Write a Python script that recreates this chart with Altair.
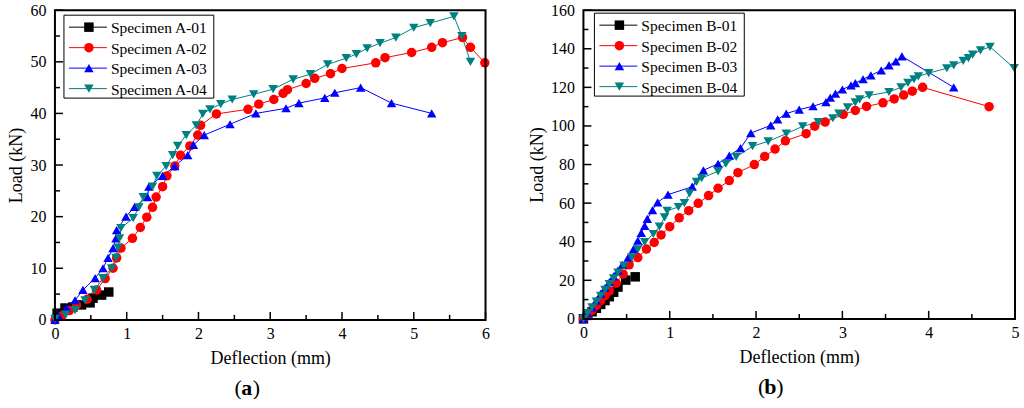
import altair as alt
import pandas as pd

FONT = "Liberation Serif"
COLORS = ["#000000", "#ff0000", "#0000ff", "#008080"]
SHAPES = ["square", "circle", "triangle-up", "triangle-down"]

# ---------------- Panel (a) ----------------
A_NAMES = ["Specimen A-01", "Specimen A-02", "Specimen A-03", "Specimen A-04"]
A01_D = [0.03, 0.14, 0.25, 0.37, 0.49, 0.53, 0.65, 0.75]
A01_L = [1.3, 2.3, 2.5, 2.9, 3.3, 4.2, 4.8, 5.4]
A02_D = [0, 0.1, 0.2, 0.3, 0.45, 0.58, 0.7, 0.81, 0.86, 0.92,
         1.08, 1.19, 1.28, 1.36, 1.41, 1.5, 1.56, 1.67, 1.75, 1.88,
         1.99, 2.03, 2.25, 2.69, 2.84, 3.05, 3.18, 3.24, 3.5, 3.62,
         3.84, 4.0, 4.47, 4.6, 4.97, 5.25, 5.4, 5.68, 5.79, 5.99]
A02_L = [0, 0.8, 1.8, 2.8, 4, 5.8, 8, 10, 12, 13.9,
         15.8, 17.9, 19.9, 21.8, 23.8, 25.8, 27.9, 29.8, 31.9, 33.7,
         35.8, 37.7, 39.9, 40.8, 41.8, 42.7, 43.9, 44.6, 45.8, 46.8,
         47.7, 48.7, 49.8, 50.8, 51.8, 52.8, 53.7, 54.7, 52.8, 49.8]
A03_D = [0, 0.05, 0.16, 0.28, 0.39, 0.56, 0.67, 0.74, 0.81, 0.85,
         0.86, 0.99, 1.11, 1.29, 1.31, 1.5, 1.67, 1.85, 1.93, 2.08,
         2.44, 2.8, 3.22, 3.4, 3.76, 3.9, 4.26, 4.69, 5.25]
A03_L = [0, 0.8, 2.3, 3.8, 5.8, 8.1, 10, 12, 13.9, 15.8,
         17.4, 20, 21.9, 23.8, 25.8, 27.9, 29.8, 31.9, 33.9, 35.8,
         37.9, 40, 41, 42, 43, 44, 45, 42, 40]
A04_D = [0, 0.15, 0.28, 0.42, 0.55, 0.67, 0.79, 0.85, 0.88, 0.9,
         0.92, 1.09, 1.17, 1.23, 1.36, 1.42, 1.55, 1.64, 1.71, 1.83,
         1.97, 2.06, 2.16, 2.31, 2.47, 2.77, 3.04, 3.32, 3.56, 3.8,
         4.06, 4.2, 4.35, 4.53, 4.75, 5.0, 5.23, 5.56, 5.67, 5.79]
A04_L = [0.2, 1, 1.9, 3.8, 5.8, 8.1, 10, 12, 14, 15.8,
         17.8, 19.7, 21.8, 23.8, 25.8, 27.9, 29.8, 31.9, 33.7, 35.8,
         37.7, 39.9, 40.8, 41.8, 42.7, 43.7, 44.7, 46.6, 47.6, 49.5,
         50.7, 51.5, 52.6, 53.6, 54.7, 56.6, 57.5, 58.8, 55, 50]

# ---------------- Panel (b) ----------------
B_NAMES = ["Specimen B-01", "Specimen B-02", "Specimen B-03", "Specimen B-04"]
B01_D = [0, 0.05, 0.1, 0.15, 0.2, 0.25, 0.3, 0.35, 0.4, 0.49, 0.6]
B01_L = [0, 1.8, 3.7, 5.5, 7.5, 9.5, 11.5, 13.8, 16.5, 20.1, 21.8]
B02_D = [0, 0.05, 0.1, 0.15, 0.2, 0.25, 0.3, 0.38, 0.46, 0.53,
         0.63, 0.73, 0.82, 0.9, 1.0, 1.11, 1.22, 1.33, 1.45, 1.56,
         1.69, 1.79, 1.98, 2.1, 2.22, 2.34, 2.58, 2.68, 2.8, 3.01,
         3.15, 3.28, 3.47, 3.6, 3.71, 3.81, 3.93, 4.7]
B02_L = [0, 2, 4.5, 7, 9.5, 12, 14.5, 18.5, 23.2, 28,
         31.8, 36.2, 39.6, 43.5, 47.8, 52.4, 56.1, 59.9, 63.9, 67.7,
         71.7, 75.8, 80, 84.2, 88, 92.3, 96, 99.9, 102, 106,
         108, 110.1, 112, 114, 116, 118, 120, 110]
B03_D = [0, 0.05, 0.1, 0.15, 0.2, 0.25, 0.3, 0.35, 0.4, 0.45,
         0.52, 0.58, 0.63, 0.67, 0.71, 0.74, 0.8, 0.86, 0.98, 1.26,
         1.39, 1.56, 1.69, 1.82, 1.94, 2.17, 2.25, 2.35, 2.5, 2.66,
         2.81, 2.86, 2.92, 3.0, 3.1, 3.15, 3.24, 3.33, 3.45, 3.54,
         3.62, 3.69, 4.29]
B03_L = [0, 3, 6, 9.5, 13, 16, 19, 22, 25, 28,
         31.9, 36.2, 40.5, 44.6, 48.2, 51.8, 56.4, 60.4, 64.4, 68.5,
         77, 80.4, 84.6, 88.5, 96.3, 100.3, 103.4, 106.4, 108.5, 110.2,
         112.4, 114.7, 116.8, 118.9, 121, 122.2, 124.2, 126.2, 128.8, 131.4,
         133.5, 136.1, 120]
B04_D = [0, 0.05, 0.1, 0.15, 0.2, 0.25, 0.3, 0.35, 0.4, 0.47,
         0.56, 0.63, 0.71, 0.81, 0.88, 0.94, 0.97, 1.1, 1.17, 1.23,
         1.31, 1.37, 1.56, 1.65, 1.77, 1.96, 2.14, 2.35, 2.54, 2.72,
         2.89, 2.96, 3.06, 3.15, 3.2, 3.31, 3.54, 3.68, 3.76, 3.83,
         3.88, 4.0, 4.21, 4.29, 4.4, 4.46, 4.51, 4.6, 4.71, 4.99]
B04_L = [0, 3, 6, 9, 12, 15, 18, 21, 24, 27.5,
         31.9, 36, 39.8, 44, 47.8, 52.6, 56, 58, 60, 65,
         71, 73, 76.5, 80.4, 84, 89.5, 92, 96, 99.8, 102,
         104, 106.4, 109.6, 112.2, 113.8, 115.8, 117.6, 120, 122.3, 124.2,
         125.7, 127.4, 129.9, 131.4, 133.7, 135.2, 137, 139.2, 141, 130]

A_X_TICKS = [0, 1, 2, 3, 4, 5, 6]
A_X_MINOR = [0.5, 1.5, 2.5, 3.5, 4.5, 5.5]
A_Y_TICKS = [0, 10, 20, 30, 40, 50, 60]
A_Y_MINOR = [5, 15, 25, 35, 45, 55]
B_X_TICKS = [0, 1, 2, 3, 4, 5]
B_X_MINOR = [0.5, 1.5, 2.5, 3.5, 4.5]
B_Y_TICKS = [0, 20, 40, 60, 80, 100, 120, 140, 160]
B_Y_MINOR = [10, 30, 50, 70, 90, 110, 130, 150]

MARK_SIZE = 90


def make_df(names, ds, ls):
    rows = []
    for n, d, l in zip(names, ds, ls):
        for i, (x, y) in enumerate(zip(d, l)):
            rows.append({"s": n, "d": x, "L": y, "i": i})
    return pd.DataFrame(rows)


def panel(df, names, xt, xm, yt, ym, W, H, tag, tag_x, bx, by):
    xs = alt.Scale(domain=[xt[0], xt[-1]], nice=False, zero=False)
    ys = alt.Scale(domain=[yt[0], yt[-1]], nice=False, zero=False)
    xaxis = alt.Axis(values=xt, format="d", title="Deflection (mm)",
                     labelPadding=6, titlePadding=8)
    yaxis = alt.Axis(values=yt, format="d", title="Load (kN)",
                     labelPadding=9, titlePadding=4)
    cscale = alt.Scale(domain=names, range=COLORS)
    sscale = alt.Scale(domain=names, range=SHAPES)
    base = alt.Chart(df)
    lines = base.mark_line(strokeWidth=1).encode(
        x=alt.X("d:Q", scale=xs, axis=xaxis),
        y=alt.Y("L:Q", scale=ys, axis=yaxis),
        color=alt.Color("s:N", scale=cscale, legend=None),
        detail="s:N",
        order="i:Q",
    )
    pts = base.mark_point(filled=True, size=MARK_SIZE, opacity=1).encode(
        x=alt.X("d:Q", scale=xs, axis=xaxis),
        y=alt.Y("L:Q", scale=ys, axis=yaxis),
        color=alt.Color("s:N", scale=cscale, legend=None),
        shape=alt.Shape("s:N", scale=sscale, legend=None),
    )

    def xticks(vals, ln):
        return alt.Chart(pd.DataFrame({"d": vals})).mark_rule(color="black", strokeWidth=1.5).encode(
            x=alt.X("d:Q", scale=xs, axis=xaxis), y=alt.value(H), y2=alt.value(H - ln))

    def yticks(vals, ln):
        return alt.Chart(pd.DataFrame({"L": vals})).mark_rule(color="black", strokeWidth=1.5).encode(
            y=alt.Y("L:Q", scale=ys, axis=yaxis), x=alt.value(0), x2=alt.value(ln))

    one = pd.DataFrame({"k": [0]})
    frame = alt.Chart(one).mark_rect(fill=None, stroke="black", strokeWidth=2).encode(
        x=alt.value(0), x2=alt.value(W), y=alt.value(0), y2=alt.value(H))

    # legend (box, line sample, marker, label)
    leg = [alt.Chart(one).mark_rect(fill="white", stroke="black", strokeWidth=1).encode(
        x=alt.value(bx), x2=alt.value(bx + 150), y=alt.value(by), y2=alt.value(by + 83))]
    for k, name in enumerate(names):
        yy = by + 12 + k * 20.5
        leg.append(alt.Chart(one).mark_rule(color=COLORS[k], strokeWidth=1).encode(
            x=alt.value(bx + 5), x2=alt.value(bx + 43), y=alt.value(yy)))
        leg.append(alt.Chart(one).mark_point(shape=SHAPES[k], filled=True, size=MARK_SIZE,
                                             color=COLORS[k], opacity=1).encode(
            x=alt.value(bx + 25), y=alt.value(yy)))
        leg.append(alt.Chart(one).mark_text(text=name, font=FONT, fontSize=15.5, align="left",
                                            baseline="middle", color="black").encode(
            x=alt.value(bx + 47), y=alt.value(yy + 1)))

    t1 = alt.Chart(one).mark_text(text="(", font=FONT, fontSize=22, align="right",
                                  baseline="middle", color="black").encode(
        x=alt.value(tag_x - 5), y=alt.value(H + 68))
    t2 = alt.Chart(one).mark_text(text=tag, font=FONT, fontSize=22, fontWeight="bold",
                                  align="center", baseline="middle", color="black").encode(
        x=alt.value(tag_x), y=alt.value(H + 68))
    t3 = alt.Chart(one).mark_text(text=")", font=FONT, fontSize=22, align="left",
                                  baseline="middle", color="black").encode(
        x=alt.value(tag_x + 6), y=alt.value(H + 68))

    return alt.layer(
        lines, pts,
        xticks(xt, 8), xticks(xm, 5), yticks(yt, 8), yticks(ym, 5),
        frame, *leg, t1, t2, t3,
    ).properties(width=W, height=H)


dfA = make_df(A_NAMES, [A01_D, A02_D, A03_D, A04_D], [A01_L, A02_L, A03_L, A04_L])
dfB = make_df(B_NAMES, [B01_D, B02_D, B03_D, B04_D], [B01_L, B02_L, B03_L, B04_L])

left = panel(dfA, A_NAMES, A_X_TICKS, A_X_MINOR, A_Y_TICKS, A_Y_MINOR, 431, 310, "a", 192, 9, 5)
right = panel(dfB, B_NAMES, B_X_TICKS, B_X_MINOR, B_Y_TICKS, B_Y_MINOR, 432, 309, "b", 187, 11, 3)

chart = alt.hconcat(left, right, spacing=38).resolve_scale(
    x="independent", y="independent", color="independent", shape="independent"
).properties(
    padding={"left": 8, "top": 2, "right": 5, "bottom": 0},
    background="white",
).configure_view(
    stroke=None
).configure_axis(
    ticks=False, domain=False, grid=False,
    labelFont=FONT, labelFontSize=16, labelColor="black", labelFlush=False,
    titleFont=FONT, titleFontSize=18, titleFontWeight="normal", titleColor="black",
)

chart.save("out.html", embed_options={"renderer": "svg", "actions": False})
